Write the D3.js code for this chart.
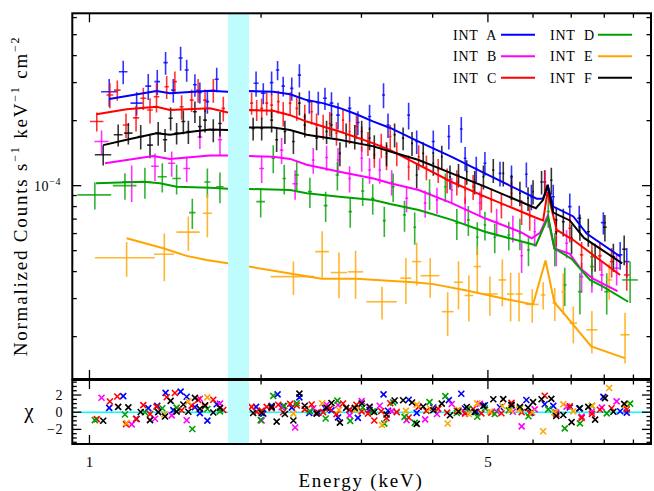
<!DOCTYPE html>
<html>
<head>
<meta charset="utf-8">
<script src="https://cdn.jsdelivr.net/npm/d3@7"></script>
<style>
  body { margin: 0; background: #fff; }
  text { font-family: "Liberation Serif", "DejaVu Serif", serif; fill: #000; }
</style>
</head>
<body>
<svg id="chart" width="654" height="491"></svg>
<script>
// Spectral bins: [energy keV, half bin width keV, flux, 1-sigma error]
// flux in units of 1e-4 counts s^-1 keV^-1 cm^-2
const intA = [
  [1.083,0.035,2.72,0.40],[1.146,0.02,3.37,0.42],[1.21,0.03,2.41,0.30],[1.268,0.015,2.89,0.40],
  [1.315,0.015,3.03,0.40],[1.36,0.012,3.71,0.45],[1.403,0.012,2.77,0.35],[1.445,0.012,3.90,0.50],
  [1.481,0.012,3.43,0.40],[1.531,0.012,2.93,0.35],[1.562,0.012,2.70,0.30],[1.61,0.012,2.45,0.30],
  [1.672,0.014,3.11,0.40],
  [1.96,0.02,2.98,0.40],[2.018,0.02,2.68,0.30],[2.087,0.015,3.00,0.38],[2.138,0.015,3.43,0.35],
  [2.187,0.015,2.89,0.30],[2.264,0.015,2.82,0.35],[2.335,0.015,3.25,0.40],[2.43,0.02,2.45,0.30],
  [2.52,0.02,2.42,0.30],[2.589,0.02,2.54,0.30],[2.658,0.02,2.41,0.30],[2.729,0.02,2.12,0.30],
  [2.86,0.02,2.28,0.30],[2.957,0.02,1.96,0.25],[3.10,0.02,2.09,0.28],[3.28,0.02,2.63,0.35],
  [3.34,0.02,1.91,0.25],[3.63,0.02,2.12,0.30],[3.75,0.02,1.60,0.20],[4.01,0.025,1.60,0.20],
  [4.27,0.025,1.69,0.22],[4.49,0.025,1.83,0.25],[4.56,0.025,1.34,0.17],[4.77,0.025,1.20,0.16],
  [4.94,0.03,1.27,0.16],[5.25,0.03,1.14,0.15],[5.50,0.03,1.10,0.14],[5.84,0.03,1.13,0.15],
  [5.96,0.03,0.889,0.12],[6.29,0.04,1.04,0.14],[6.51,0.04,0.889,0.12],[6.96,0.05,0.80,0.12],
  [7.23,0.06,0.707,0.10],[7.97,0.08,0.674,0.08],[8.53,0.08,0.478,0.07],[8.76,0.10,0.445,0.07]
];
const intB = [
  [1.05,0.03,1.60,0.20],[1.186,0.045,1.04,0.20],[1.303,0.02,1.23,0.18],[1.394,0.02,1.27,0.17],
  [1.481,0.02,1.20,0.16],[1.562,0.015,1.68,0.20],[1.694,0.015,1.63,0.25],
  [2.005,0.02,1.20,0.17],[2.173,0.015,1.46,0.20],[2.295,0.025,1.02,0.16],[2.469,0.015,1.315,0.18],
  [2.606,0.015,1.35,0.18],[2.729,0.015,1.315,0.18],[2.86,0.015,1.08,0.15],[3.003,0.015,1.34,0.18],
  [3.10,0.015,1.18,0.16],[3.23,0.015,1.18,0.16],[3.39,0.015,1.04,0.14],[3.60,0.02,0.874,0.12],
  [3.88,0.02,0.83,0.12],[4.07,0.02,0.859,0.12],[4.32,0.02,0.955,0.13],[4.56,0.02,0.772,0.11],
  [4.84,0.02,0.83,0.11],[5.18,0.02,0.681,0.10],[5.53,0.02,0.635,0.09],[5.73,0.03,0.474,0.08],
  [6.04,0.03,0.612,0.09],[6.59,0.04,0.504,0.08],[6.87,0.04,0.541,0.08],[7.30,0.05,0.379,0.06],
  [7.61,0.05,0.379,0.06],[7.92,0.06,0.386,0.06],[8.41,0.08,0.415,0.07]
];
const intC = [
  [1.03,0.028,1.98,0.20],[1.086,0.015,2.63,0.35],[1.119,0.015,2.77,0.30],[1.159,0.015,1.91,0.25],
  [1.207,0.015,2.06,0.28],[1.243,0.015,2.54,0.30],[1.277,0.015,2.24,0.30],[1.311,0.015,2.58,0.40],
  [1.366,0.012,2.87,0.35],[1.412,0.012,3.03,0.35],[1.451,0.012,2.32,0.30],[1.511,0.012,2.49,0.30],
  [1.551,0.012,2.77,0.35],[1.595,0.012,2.49,0.30],[1.649,0.012,2.77,0.35],[1.717,0.012,2.28,0.30],
  [1.925,0.012,2.41,0.28],[1.965,0.012,2.24,0.25],[2.005,0.012,2.28,0.25],[2.046,0.012,2.41,0.30],
  [2.087,0.012,2.36,0.30],[2.144,0.012,2.45,0.30],[2.187,0.012,2.16,0.28],[2.249,0.012,2.41,0.30],
  [2.31,0.012,2.28,0.28],[2.386,0.012,2.09,0.28],[2.453,0.012,2.20,0.28],[2.503,0.012,1.91,0.25],
  [2.57,0.012,1.88,0.25],[2.64,0.012,1.94,0.25],[2.712,0.012,1.75,0.22],[2.785,0.012,2.01,0.25],
  [2.86,0.012,1.78,0.22],[2.94,0.012,1.88,0.24],[3.003,0.012,1.66,0.22],[3.08,0.012,1.57,0.20],
  [3.16,0.012,1.39,0.18],[3.25,0.012,1.54,0.20],[3.32,0.012,1.36,0.18],[3.37,0.015,1.69,0.22],
  [3.46,0.015,1.41,0.18],[3.63,0.015,1.22,0.16],[3.78,0.015,1.36,0.18],[3.90,0.015,1.22,0.16],
  [4.09,0.015,1.18,0.15],[4.24,0.015,1.06,0.14],[4.41,0.015,1.04,0.14],[4.56,0.015,0.955,0.13],
  [4.71,0.015,0.989,0.13],[4.87,0.02,0.889,0.12],[5.07,0.02,0.859,0.11],[5.28,0.02,0.814,0.11],
  [5.50,0.02,0.922,0.12],[5.73,0.02,0.758,0.10],[5.92,0.02,0.719,0.10],[6.29,0.03,1.04,0.14],
  [6.59,0.04,0.612,0.09],[6.96,0.04,0.635,0.09],[7.30,0.05,0.478,0.07],[7.61,0.05,0.469,0.07],
  [7.86,0.06,0.473,0.07],[8.24,0.06,0.445,0.07],[8.76,0.10,0.386,0.06]
];
const intD = [
  [1.022,0.07,0.906,0.13],[1.154,0.055,1.00,0.14],[1.251,0.03,1.04,0.17],[1.342,0.025,1.10,0.17],
  [1.422,0.025,1.08,0.17],[1.515,0.02,0.75,0.12],[1.61,0.02,1.04,0.16],[1.694,0.025,0.989,0.16],
  [1.997,0.035,0.843,0.13],[2.101,0.015,1.34,0.20],[2.196,0.015,1.08,0.17],[2.31,0.02,1.12,0.17],
  [2.436,0.02,0.938,0.15],[2.596,0.02,0.808,0.13],[2.722,0.02,1.12,0.17],[2.867,0.02,0.758,0.12],
  [3.015,0.02,0.945,0.14],[3.14,0.02,0.874,0.14],[3.29,0.02,0.689,0.11],[3.41,0.02,0.989,0.15],
  [3.57,0.02,0.732,0.12],[3.72,0.02,0.642,0.11],[3.95,0.02,0.922,0.15],[4.21,0.02,0.989,0.15],
  [4.41,0.025,0.67,0.11],[4.62,0.025,0.694,0.11],[4.79,0.025,0.577,0.10],[4.94,0.025,0.658,0.10],
  [5.14,0.025,0.577,0.09],[5.44,0.03,0.591,0.09],[5.69,0.03,0.602,0.10],[5.89,0.03,0.504,0.08],
  [6.38,0.04,0.758,0.12],[6.55,0.04,0.513,0.09],[6.82,0.05,0.347,0.07],[7.25,0.06,0.323,0.07],
  [7.61,0.06,0.422,0.08],[8.08,0.08,0.323,0.07],[8.88,0.28,0.366,0.08]
];
const intE = [
  [1.162,0.14,0.464,0.085],[1.353,0.055,0.481,0.12],[1.491,0.07,0.609,0.11],[1.61,0.03,0.745,0.17],
  [2.279,0.20,0.379,0.067],[2.56,0.07,0.495,0.12],[2.74,0.09,0.396,0.095],[2.93,0.09,0.399,0.10],
  [3.26,0.20,0.29,0.05],[3.59,0.08,0.373,0.09],[3.75,0.07,0.445,0.10],[3.96,0.15,0.383,0.08],
  [4.25,0.10,0.261,0.06],[4.44,0.08,0.357,0.09],[4.63,0.08,0.31,0.075],[4.79,0.07,0.422,0.10],
  [5.04,0.16,0.315,0.065],[5.30,0.08,0.366,0.09],[5.48,0.08,0.315,0.08],[5.67,0.08,0.315,0.08],
  [5.98,0.16,0.282,0.05],[6.25,0.06,0.312,0.045],[6.55,0.06,0.286,0.05],[6.78,0.05,0.323,0.07],
  [7.06,0.11,0.231,0.045],[7.61,0.17,0.215,0.048],[8.16,0.10,0.366,0.07],[8.70,0.16,0.204,0.054]
];
const intF = [
  [1.057,0.035,1.39,0.15],[1.123,0.02,1.72,0.20],[1.17,0.02,1.75,0.20],[1.23,0.015,1.69,0.22],
  [1.277,0.015,1.54,0.20],[1.32,0.015,1.75,0.22],[1.357,0.012,1.63,0.20],[1.388,0.012,2.05,0.25],
  [1.422,0.012,1.75,0.20],[1.461,0.012,1.98,0.25],[1.491,0.012,1.78,0.22],[1.531,0.012,2.20,0.25],
  [1.562,0.012,1.88,0.22],[1.595,0.012,2.01,0.25],[1.649,0.012,1.81,0.22],[1.694,0.012,1.94,0.25],
  [1.937,0.012,1.84,0.22],[2.005,0.012,1.84,0.22],[2.087,0.012,2.01,0.25],[2.13,0.012,1.63,0.20],
  [2.202,0.012,1.78,0.22],[2.279,0.012,1.60,0.20],[2.335,0.012,2.41,0.30],[2.386,0.012,1.91,0.24],
  [2.503,0.012,1.66,0.20],[2.606,0.012,1.78,0.22],[2.658,0.012,1.91,0.24],[2.75,0.012,1.41,0.18],
  [2.82,0.012,1.72,0.22],[2.92,0.012,1.69,0.22],[3.003,0.012,1.78,0.22],[3.10,0.012,1.66,0.20],
  [3.16,0.012,1.52,0.19],[3.32,0.012,1.41,0.18],[3.43,0.015,1.72,0.22],[3.55,0.015,1.66,0.20],
  [3.68,0.015,1.57,0.20],[3.75,0.015,1.12,0.15],[3.85,0.015,1.41,0.18],[4.01,0.015,1.27,0.16],
  [4.15,0.015,1.36,0.17],[4.29,0.015,1.10,0.14],[4.44,0.015,1.12,0.14],[4.59,0.015,1.16,0.15],
  [4.74,0.015,1.04,0.13],[4.91,0.02,1.10,0.14],[5.11,0.02,1.18,0.15],[5.32,0.02,1.14,0.15],
  [5.50,0.02,0.989,0.13],[5.69,0.02,0.922,0.12],[5.88,0.02,0.874,0.11],[6.00,0.02,0.938,0.12],
  [6.21,0.03,1.04,0.13],[6.46,0.03,1.06,0.15],[6.59,0.03,0.694,0.10],[6.78,0.04,0.681,0.10],
  [7.01,0.04,0.571,0.09],[7.25,0.04,0.646,0.09],[7.50,0.05,0.612,0.09],[7.71,0.05,0.469,0.07],
  [8.02,0.06,0.642,0.09],[8.30,0.06,0.469,0.07],[8.67,0.07,0.508,0.08]
];

// Folded best-fit models: [energy keV, flux in 1e-4 units]
const modelA = [[1.083,2.52],[1.311,2.74],[1.384,2.68],[1.627,2.75],[1.748,2.72],[1.905,2.74],[2.101,2.72],
  [2.249,2.65],[2.405,2.49],[2.566,2.41],[2.745,2.29],[2.94,2.14],[3.15,1.98],[3.37,1.85],[3.78,1.60],
  [4.32,1.36],[4.94,1.14],[5.66,0.955],[6.09,0.87],[6.24,0.87],[6.38,0.986],[6.51,0.80],[7.06,0.72],
  [7.45,0.60],[8.53,0.47]];
const modelB = [[1.065,1.27],[1.294,1.37],[1.384,1.33],[1.627,1.38],[1.748,1.38],[1.905,1.37],[2.101,1.36],
  [2.249,1.33],[2.405,1.25],[2.745,1.16],[3.15,1.08],[3.37,1.026],[3.78,0.955],[4.32,0.83],[4.94,0.706],
  [5.69,0.612],[5.97,0.57],[6.17,0.604],[6.36,0.72],[6.54,0.512],[6.96,0.483],[7.25,0.416],[7.63,0.372],
  [8.44,0.325]];
const modelC = [[1.029,2.14],[1.162,2.26],[1.311,2.32],[1.384,2.24],[1.627,2.28],[1.748,2.18],[1.905,2.24],
  [2.101,2.22],[2.249,2.12],[2.405,1.98],[2.745,1.78],[3.15,1.57],[3.37,1.46],[4.32,1.04],[4.94,0.89],
  [6.07,0.71],[6.25,0.69],[6.36,0.935],[6.60,0.624],[7.06,0.56],[7.55,0.49],[8.53,0.386]];
const modelD = [[1.027,1.026],[1.243,1.043],[1.329,1.026],[1.422,0.989],[1.627,0.979],[1.748,0.968],
  [1.905,0.965],[2.249,0.955],[2.405,0.922],[2.745,0.889],[3.15,0.859],[3.37,0.823],[3.78,0.772],
  [4.32,0.694],[4.94,0.612],[6.07,0.53],[6.38,0.719],[6.54,0.513],[7.01,0.458],[7.55,0.366],
  [7.96,0.341],[8.81,0.29]];
const modelE = [[1.162,0.571],[1.347,0.513],[1.481,0.473],[1.605,0.453],[1.748,0.437],[1.905,0.422],
  [2.555,0.371],[2.94,0.371],[3.75,0.356],[4.01,0.35],[4.59,0.327],[5.39,0.298],[6.00,0.282],
  [6.31,0.45],[6.54,0.288],[6.78,0.258],[7.59,0.18],[8.69,0.159]];
const modelF = [[1.057,1.54],[1.162,1.63],[1.311,1.75],[1.384,1.72],[1.521,1.78],[1.627,1.82],[1.748,1.81],
  [1.905,1.86],[2.101,1.86],[2.249,1.81],[2.405,1.72],[2.745,1.63],[3.15,1.52],[3.37,1.44],[3.78,1.315],
  [4.32,1.14],[4.94,0.99],[6.07,0.786],[6.25,0.86],[6.36,1.01],[6.51,0.75],[6.96,0.69],[7.37,0.573],
  [8.6,0.437]];

const seriesNames  = ["INT A", "INT B", "INT C", "INT D", "INT E", "INT F"];
const seriesColors = ["#0000ff", "#ff00ff", "#ff0000", "#00a000", "#ffa500", "#000000"];
const seriesData   = [intA, intB, intC, intD, intE, intF];
const seriesModels = [modelA, modelB, modelC, modelD, modelE, modelF];

const ignoredBand = [1.75, 1.905];          // keV range excluded from the fit
const xMajorTicks = [1, 5];
const xMinorTicks = [2, 3, 4, 6, 7, 8, 9];
const yMajorTicks = [1];                    // 1e-4
const yMinorTicks = [0.2, 0.3, 0.4, 0.5, 0.6, 0.7, 0.8, 0.9, 2, 3, 4, 5, 6];
const chiMajorTicks = [-2, 0, 2];
const chiMinorTicks = [-3.5, -3, -2.5, -1.5, -1, -0.5, 0.5, 1, 1.5, 2.5, 3, 3.5];

// ---- layout ----
const svg = d3.select("#chart");
const L = 72.3, R = 651, T = 13.3, B1 = 379, T2 = 380, B2 = 444;

const x = d3.scaleLog().domain([0.933, 9.662]).range([L, R]);
const y = d3.scaleLog().domain([0.1273, 6.28]).range([B1, T]);
const r = d3.scaleLinear().domain([-3.7, 3.75]).range([B2, T2]);

const defs = svg.append("defs");
defs.append("clipPath").attr("id", "clipTop")
  .append("rect").attr("x", L).attr("y", T).attr("width", R - L).attr("height", B1 - T);
defs.append("clipPath").attr("id", "clipBot")
  .append("rect").attr("x", L).attr("y", T2).attr("width", R - L).attr("height", B2 - T2);

// model value at energy E (log-log interpolation along the model polyline)
function modelAt(m, E) {
  let i = d3.bisector(d => d[0]).left(m, E);
  i = Math.max(1, Math.min(m.length - 1, i));
  const [e0, v0] = m[i - 1], [e1, v1] = m[i];
  const t = (Math.log(E) - Math.log(e0)) / (Math.log(e1) - Math.log(e0));
  return Math.exp(Math.log(v0) + t * (Math.log(v1) - Math.log(v0)));
}

// ---- upper panel: data crosses and models ----
const specG = svg.append("g").attr("clip-path", "url(#clipTop)");
seriesData.forEach((data, k) => {
  const g = specG.append("g")
    .attr("stroke", seriesColors[k]).attr("stroke-width", 1.6).attr("stroke-opacity", 0.8);
  g.selectAll("line.h").data(data).join("line").attr("class", "h")
    .attr("x1", d => x(d[0] - d[1])).attr("x2", d => x(d[0] + d[1]))
    .attr("y1", d => y(d[2])).attr("y2", d => y(d[2]));
  g.selectAll("line.v").data(data).join("line").attr("class", "v")
    .attr("x1", d => x(d[0])).attr("x2", d => x(d[0]))
    .attr("y1", d => y(Math.max(d[2] - d[3], 0.01))).attr("y2", d => y(d[2] + d[3]));
});
const lineGen = d3.line().x(d => x(d[0])).y(d => y(d[1]));
seriesModels.forEach((m, k) => {
  specG.append("path").datum(m).attr("d", lineGen)
    .attr("fill", "none").attr("stroke", seriesColors[k]).attr("stroke-width", 2);
});

// ---- lower panel: residuals ----
const resG = svg.append("g").attr("clip-path", "url(#clipBot)");
resG.append("line").attr("x1", L).attr("x2", R).attr("y1", r(0)).attr("y2", r(0))
  .attr("stroke", "#00ffff").attr("stroke-width", 1.5);
seriesData.forEach((data, k) => {
  const res = data.map(d => [d[0], (d[2] - modelAt(seriesModels[k], d[0])) / d[3]]);
  resG.append("g").selectAll("path").data(res).join("path")
    .attr("transform", d => `translate(${x(d[0])},${r(d[1])})`)
    .attr("d", "M-3,-3L3,3M-3,3L3,-3")
    .attr("stroke", seriesColors[k]).attr("stroke-width", 1.6).attr("fill", "none");
});

// excluded energy band across both panels
svg.append("rect")
  .attr("x", x(ignoredBand[0])).attr("width", x(ignoredBand[1]) - x(ignoredBand[0]))
  .attr("y", T).attr("height", B2 - T).attr("fill", "#bffcfd");

// ---- frames and ticks ----
const axes = svg.append("g").attr("stroke", "#000");
[[T, B1], [T2, B2]].forEach(([a, b]) => {
  axes.append("rect").attr("x", L).attr("y", a).attr("width", R - L).attr("height", b - a)
    .attr("fill", "none").attr("stroke-width", 2);
});
function xTicks(vals, len, ya, yb) {
  vals.forEach(v => {
    axes.append("line").attr("x1", x(v)).attr("x2", x(v)).attr("y1", ya).attr("y2", ya + len).attr("stroke-width", 1.3);
    axes.append("line").attr("x1", x(v)).attr("x2", x(v)).attr("y1", yb).attr("y2", yb - len).attr("stroke-width", 1.3);
  });
}
xTicks(xMajorTicks, 9, T, B1);
xTicks(xMinorTicks, 4.5, T, B1);
xTicks(xMajorTicks, 9, T2, B2);
xTicks(xMinorTicks, 4.5, T2, B2);
function yTicks(scale, vals, len) {
  vals.forEach(v => {
    axes.append("line").attr("x1", L).attr("x2", L + len).attr("y1", scale(v)).attr("y2", scale(v)).attr("stroke-width", 1.3);
    axes.append("line").attr("x1", R).attr("x2", R - len).attr("y1", scale(v)).attr("y2", scale(v)).attr("stroke-width", 1.3);
  });
}
yTicks(y, yMajorTicks, 9);
yTicks(y, yMinorTicks, 4.5);
yTicks(r, chiMajorTicks, 9);
yTicks(r, chiMinorTicks, 4.5);

// ---- tick labels ----
xMajorTicks.forEach(v => {
  svg.append("text").attr("x", x(v)).attr("y", 467).attr("text-anchor", "middle")
    .attr("font-size", 15).text(v);
});
yMajorTicks.forEach(v => {
  const t = svg.append("text").attr("x", 61).attr("y", y(v) + 5).attr("text-anchor", "end")
    .attr("font-size", 14).attr("letter-spacing", 0.6);
  t.append("tspan").text("10");
  t.append("tspan").attr("dy", -6).attr("font-size", 10).text("\u2212" + (Math.round(Math.log10(v * 1e-4)) * -1));
});
chiMajorTicks.forEach(v => {
  svg.append("text").attr("x", 63).attr("y", r(v) + 5).attr("text-anchor", "end")
    .attr("font-size", 14).attr("letter-spacing", 0.6).text(v < 0 ? "\u2212" + (-v) : v);
});

// ---- axis titles ----
svg.append("text").attr("x", 361).attr("y", 487).attr("text-anchor", "middle")
  .attr("font-size", 19).attr("letter-spacing", 1.8).text("Energy (keV)");
svg.append("text").attr("x", 29).attr("y", 418).attr("text-anchor", "middle")
  .attr("font-size", 21).text("\u03c7");
const yt = svg.append("text").attr("transform", "translate(27,196) rotate(-90)")
  .attr("text-anchor", "middle").attr("font-size", 19).attr("letter-spacing", 1.8);
[["Normalized Counts s", null], ["\u22121", "sup"], [" keV", null], ["\u22121", "sup"], [" cm", null], ["\u22122", "sup"]]
  .forEach(([s, kind], i, arr) => {
    const ts = yt.append("tspan").text(s);
    if (kind === "sup") ts.attr("dy", -8).attr("font-size", 12);
    else if (i > 0 && arr[i - 1][1] === "sup") ts.attr("dy", 8);
  });

// ---- legend ----
const legend = svg.append("g");
seriesNames.forEach((name, k) => {
  const col = Math.floor(k / 3), row = k % 3;
  const tx = 453 + col * 97, ly = 34.7 + row * 21.5;
  legend.append("text").attr("x", tx).attr("y", ly + 5).attr("font-size", 14)
    .attr("letter-spacing", 0.8).attr("xml:space", "preserve").text(name.replace(" ", "  "));
  legend.append("line").attr("x1", tx + 48).attr("x2", tx + 82).attr("y1", ly).attr("y2", ly)
    .attr("stroke", seriesColors[k]).attr("stroke-width", 2);
});
</script>
</body>
</html>
